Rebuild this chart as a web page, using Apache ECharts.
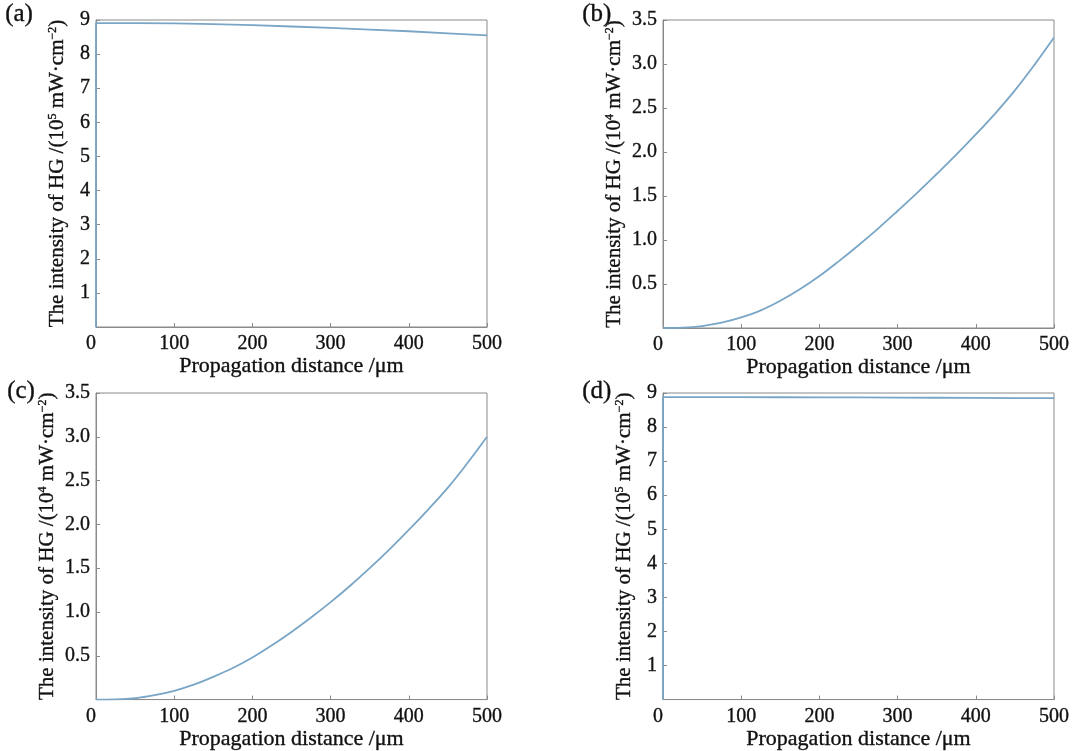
<!DOCTYPE html>
<html>
<head>
<meta charset="utf-8">
<script src="https://cdn.jsdelivr.net/npm/echarts@6/dist/echarts.min.js"></script>
<style>
  html, body { margin: 0; padding: 0; background: #fff; }
  #chart { width: 1073px; height: 751px; }
</style>
</head>
<body>
<div id="chart"></div>
<script>
// distances (µm) at which the curves were read
const distA = [0, 0, 50, 100, 150, 200, 250, 300, 350, 400, 450, 500];
const intensA = [0, 8.91, 8.91, 8.9, 8.88, 8.85, 8.81, 8.77, 8.72, 8.67, 8.61, 8.55];

const distB = [0, 25, 50, 75, 100, 125, 150, 175, 200, 225, 250, 275, 300, 325, 350, 375, 400, 425, 450, 475, 500];
const intensB = [0, 0.004, 0.022, 0.06, 0.12, 0.2, 0.31, 0.44, 0.59, 0.76, 0.94, 1.13, 1.33, 1.535, 1.75, 1.97, 2.2, 2.44, 2.7, 2.99, 3.3];

const distC = [0, 25, 50, 75, 100, 125, 150, 175, 200, 225, 250, 275, 300, 325, 350, 375, 400, 425, 450, 475, 500];
const intensC = [0, 0.002, 0.015, 0.05, 0.1, 0.17, 0.26, 0.36, 0.48, 0.62, 0.772, 0.936, 1.112, 1.3, 1.5, 1.712, 1.936, 2.172, 2.42, 2.7, 3.0];

const distD = [0, 0, 50, 100, 150, 200, 250, 300, 350, 400, 450, 500];
const intensD = [0, 8.88, 8.88, 8.88, 8.875, 8.87, 8.87, 8.865, 8.86, 8.855, 8.85, 8.85];

const panelLabels = ['(a)', '(b)', '(c)', '(d)'];
const xName = 'Propagation distance /\u03bcm';
const yName5 = 'The intensity of HG /(10{sup|5} mW\u00b7cm{sup|\u22122})';
const yName4 = 'The intensity of HG /(10{sup|4} mW\u00b7cm{sup|\u22122})';

const font = '"Liberation Serif", "DejaVu Serif", serif';
const ink = '#111';
const lineColor = '#79a6c6';
const frameColor = '#8a8a8a';

function pairs(xs, ys) {
  let out = [];
  for (let i = 0; i < xs.length; i++) out.push([xs[i], ys[i]]);
  return out;
}

const grids = [
  { left: 96, top: 20, width: 391, height: 307 },
  { left: 663, top: 20, width: 391, height: 308 },
  { left: 96, top: 393, width: 391, height: 309 },
  { left: 663, top: 393, width: 391, height: 308 }
];

const yCfg = [
  { max: 9, interval: 1, name: yName5, gap: 28, dec: 0 },
  { max: 3.5, interval: 0.5, name: yName4, gap: 38, dec: 1 },
  { max: 3.5, interval: 0.5, name: yName4, gap: 38, dec: 1 },
  { max: 9, interval: 1, name: yName5, gap: 28, dec: 0 }
];

const seriesData = [
  pairs(distA, intensA),
  pairs(distB, intensB),
  pairs(distC, intensC),
  pairs(distD, intensD)
];

// thin outline to get the heavier look of the scanned serif text
const heavy = { textBorderColor: ink, textBorderWidth: 0.35 };

const chart = echarts.init(document.getElementById('chart'));

const option = {
  backgroundColor: '#fff',
  animation: false,
  grid: grids.map(g => Object.assign({ show: true, borderColor: frameColor, borderWidth: 1, backgroundColor: 'transparent' }, g)),
  xAxis: grids.map((g, i) => ({
    type: 'value',
    gridIndex: i,
    min: 0,
    max: 500,
    interval: 100,
    name: xName,
    nameLocation: 'middle',
    nameGap: 27,
    nameTextStyle: Object.assign({ fontFamily: font, fontSize: 22, color: ink }, heavy),
    axisLine: { lineStyle: { color: frameColor } },
    axisTick: { inside: true, length: 4, lineStyle: { color: frameColor } },
    axisLabel: Object.assign({ fontFamily: font, fontSize: 20, color: ink, margin: 7, alignMinLabel: 'right' }, heavy),
    splitLine: { show: false }
  })),
  yAxis: yCfg.map((c, i) => ({
    type: 'value',
    gridIndex: i,
    min: 0,
    max: c.max,
    interval: c.interval,
    name: c.name,
    nameLocation: 'middle',
    nameGap: c.gap,
    nameTextStyle: Object.assign({
      fontFamily: font, fontSize: 21, color: ink,
      rich: { sup: Object.assign({ fontFamily: font, fontSize: 12, verticalAlign: 'top', color: ink, padding: [0, 0, 8, 0] }, heavy) }
    }, heavy),
    axisLine: { lineStyle: { color: frameColor } },
    axisTick: { inside: true, length: 4, lineStyle: { color: frameColor } },
    axisLabel: Object.assign({
      fontFamily: font, fontSize: 20, color: ink, margin: 6,
      formatter: v => (v === 0 ? '' : v.toFixed(c.dec))
    }, heavy),
    splitLine: { show: false }
  })),
  series: seriesData.map((d, i) => ({
    type: 'line',
    xAxisIndex: i,
    yAxisIndex: i,
    data: d,
    showSymbol: false,
    smooth: (i === 1 || i === 2) ? 0.4 : false,
    lineStyle: { color: lineColor, width: 1.8 },
    z: 3
  })),
  graphic: [
    { type: 'text', left: 5, top: 2, style: { text: panelLabels[0], font: '25px "Liberation Serif"', fill: ink, stroke: ink, lineWidth: 0.35 } },
    { type: 'text', left: 582, top: 2, style: { text: panelLabels[1], font: '25px "Liberation Serif"', fill: ink, stroke: ink, lineWidth: 0.35 } },
    { type: 'text', left: 7, top: 379, style: { text: panelLabels[2], font: '25px "Liberation Serif"', fill: ink, stroke: ink, lineWidth: 0.35 } },
    { type: 'text', left: 582, top: 379, style: { text: panelLabels[3], font: '25px "Liberation Serif"', fill: ink, stroke: ink, lineWidth: 0.35 } }
  ]
};

chart.setOption(option);
</script>
</body>
</html>
